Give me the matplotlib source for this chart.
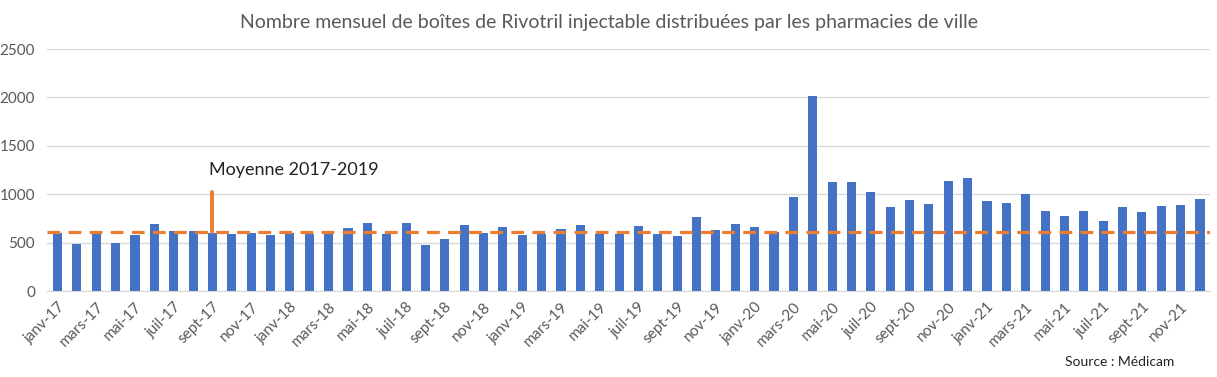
import matplotlib
matplotlib.use("Agg")
import matplotlib.pyplot as plt
import numpy as np

months_fr = ["janv", "févr", "mars", "avr", "mai", "juin", "juil", "août", "sept", "oct", "nov", "déc"]
years = ["17", "18", "19", "20", "21"]
categories = [f"{m}-{y}" for y in years for m in months_fr]

boites = [600, 490, 600, 500, 575, 695, 620, 620, 595, 585, 595, 575,
          600, 585, 620, 655, 705, 585, 705, 480, 540, 685, 600, 665,
          575, 590, 645, 685, 585, 590, 675, 590, 565, 765, 635, 695,
          665, 615, 970, 2010, 1125, 1125, 1020, 865, 940, 900, 1135, 1165,
          930, 905, 1000, 825, 775, 825, 725, 865, 815, 875, 885, 950]

moyenne = 610
annot_label = "Moyenne 2017-2019"
annot_index = 8
annot_top = 1020

plt.rcParams['font.family'] = ['Lato', 'DejaVu Sans']

fig = plt.figure(figsize=(12.17, 3.77), dpi=100)
ax = fig.add_axes([0.039, 0.228, 0.955, 0.642])

x = np.arange(len(categories))
ax.bar(x, boites, width=0.47, color="#4472C4", zorder=2)
ax.axhline(moyenne, color="#ED7D31", lw=2.3, dashes=(4, 2.6), zorder=3)
ax.plot([annot_index, annot_index], [moyenne, annot_top], color="#ED7D31", lw=2.8,
        solid_capstyle='round', zorder=3)
ax.text(annot_index - 0.2, annot_top + 150, annot_label, fontsize=13, color="#222222",
        ha='left', va='bottom')

ax.set_xlim(-0.52, 59.5)
ax.set_ylim(0, 2500)
ax.set_yticks([0, 500, 1000, 1500, 2000, 2500])
ax.yaxis.grid(True, color="#D9D9D9", lw=1)
ax.set_axisbelow(True)
for s in ["top", "right", "left"]:
    ax.spines[s].set_visible(False)
ax.spines["bottom"].set_color("#D9D9D9")
ax.tick_params(axis='y', length=0, labelsize=11, labelcolor="#595959", pad=9)
ax.tick_params(axis='x', length=0, labelsize=11, labelcolor="#595959", pad=6)
ax.set_xticks(x[::2])
ax.set_xticklabels(categories[::2], rotation=45, ha='right', rotation_mode='anchor')

fig.text(0.5, 0.94, "Nombre mensuel de boîtes de Rivotril injectable distribuées par les pharmacies de ville",
         ha='center', va='center', fontsize=14, color="#595959")
fig.text(0.875, 0.04, "Source : Médicam", ha='left', va='center', fontsize=10, color="#222222")

fig.savefig("out.png", dpi=100)
